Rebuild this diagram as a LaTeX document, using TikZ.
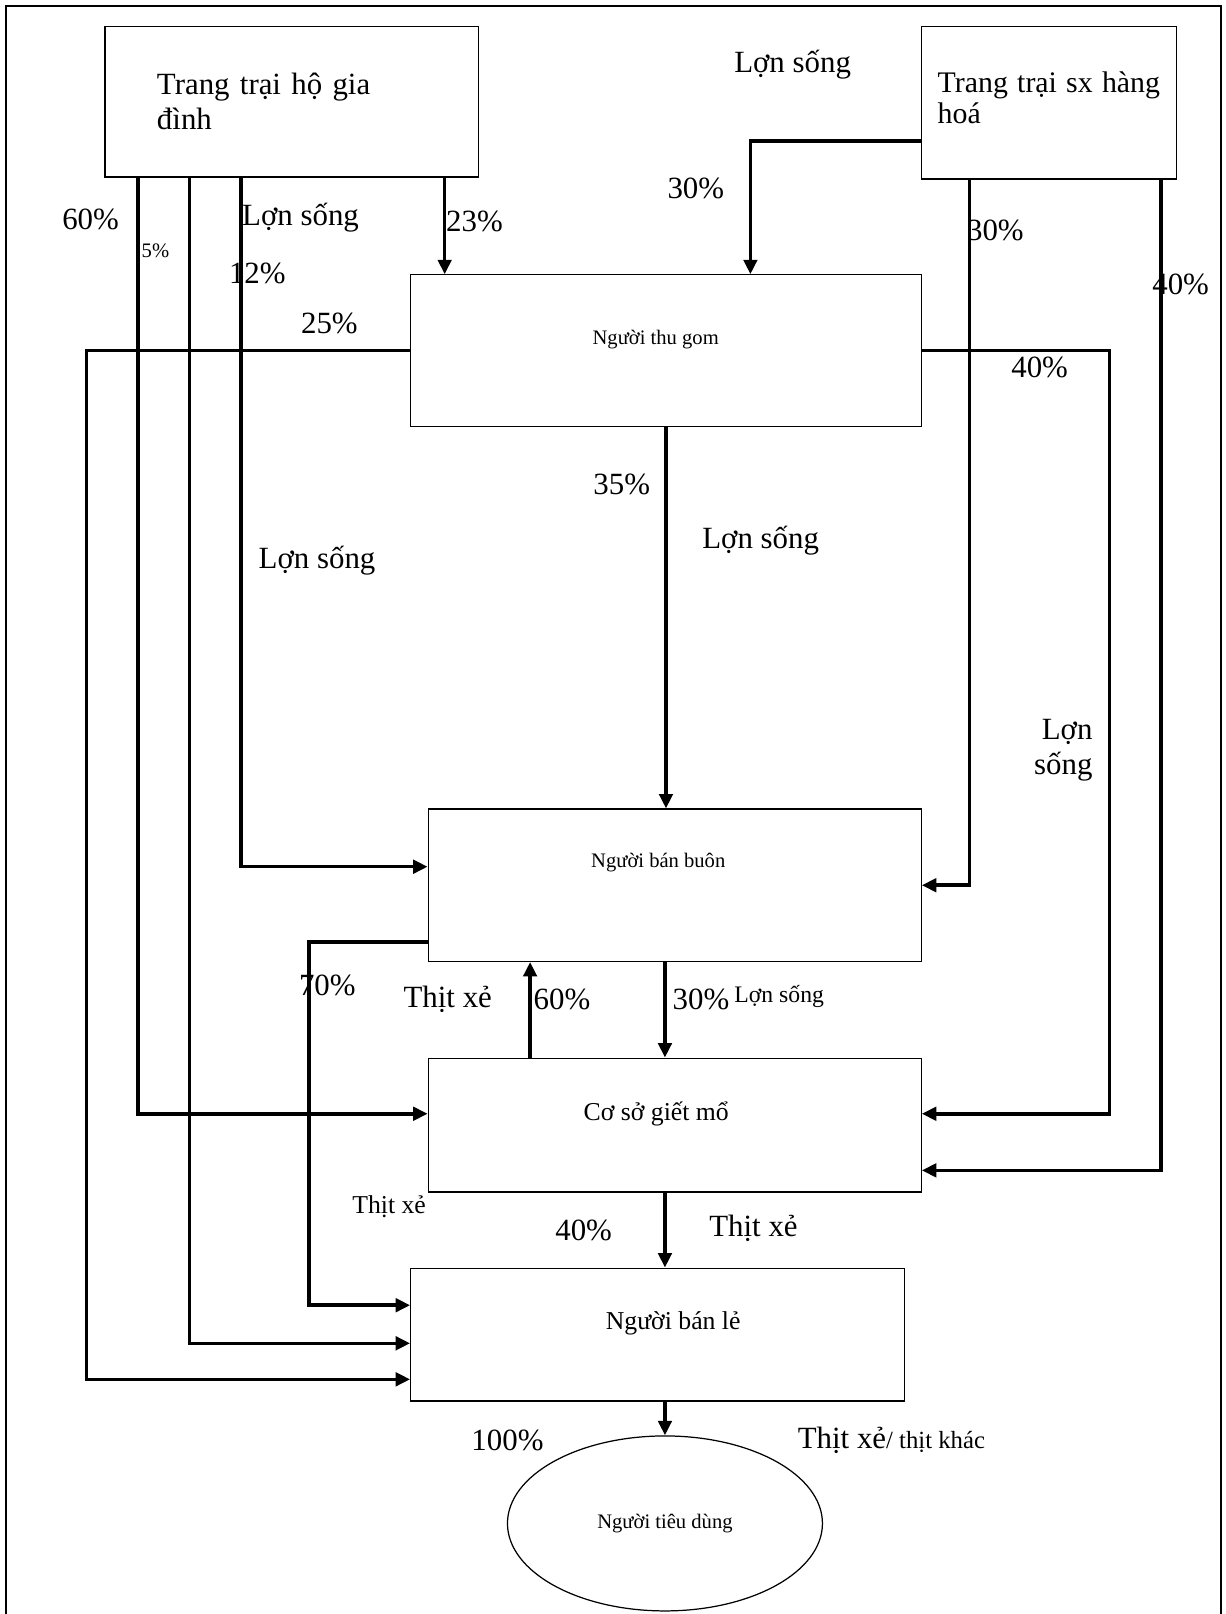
\documentclass[tikz,border=0pt]{standalone}
\usepackage{fontspec}
\setmainfont{Liberation Serif}
\usetikzlibrary{arrows.meta,shapes.geometric}

\tikzset{
  box/.style={draw, line width=1.2pt, inner sep=0pt},
  flow/.style={line width=3.4pt, -{Triangle[length=14pt,width=13pt]}},
  big/.style={font=\fontsize{30}{34}\selectfont},
  mid/.style={font=\fontsize{25}{28}\selectfont},
  sml/.style={font=\fontsize{20}{23}\selectfont}
}

\begin{document}
\begin{tikzpicture}[x=1pt, y=-1pt]
    \useasboundingbox (0,0) rectangle (1191,1568);

    % frame
    \draw[line width=1.5pt] (6,1570) -- (6,6) -- (1186,6) -- (1186,1570);

    % farms
    \node[box, big, minimum width=363pt, minimum height=146pt,
          text width=262pt, align=left] (ho) at (283.5,99)
          {Trang trại hộ gia\\đình};
    \node[box, font=\fontsize{29}{30}\selectfont, minimum width=248pt,
          minimum height=148pt, text width=216pt, align=justify] (hh) at (1019,100)
          {Trang\hfill trại\hfill sx\hfill hàng\\\raisebox{0pt}[\height][\dimexpr\depth+10pt]{hoá}};

    % traders
    \node[box, sml, minimum width=496pt, minimum height=147pt,
          text height=18pt, text depth=29pt] (thugom) at (647,340.5)
          {Người thu gom\hspace*{20pt}};
    \node[box, sml, minimum width=479pt, minimum height=148pt,
          text height=18pt, text depth=52pt] (banbuon) at (655.5,860)
          {Người bán buôn\hspace*{32pt}};
    \node[box, mid, minimum width=479pt, minimum height=130pt,
          text height=22pt, text depth=30pt] (gietmo) at (655.5,1093)
          {Cơ sở giết mổ\hspace*{36pt}};
    \node[box, mid, minimum width=480pt, minimum height=129pt,
          text height=22pt, text depth=31pt] (banle) at (639,1296.5)
          {\hspace*{30pt}Người bán lẻ};
    \node[draw, line width=1.2pt, ellipse, sml, minimum width=306pt,
          minimum height=170pt] (tieudung) at (646,1480) {Người tiêu dùng};

    % flows from household farm
    \draw[flow] (ho.south -| 134,0) |- ([yshift=11pt]gietmo.west);
    \draw[flow] (ho.south -| 184,0) |- ([yshift=-8.5pt]banle.west);
    \draw[flow] (ho.south -| 234,0) |- ([yshift=18pt]banbuon.west);
    \draw[flow] (ho.south -| 432,0) -- (thugom.north -| 432,0);

    % flows from commercial farm
    \draw[flow] ([yshift=-37pt]hh.west) -| (thugom.north -| 729,0);
    \draw[flow] (hh.south -| 942,0) |- (banbuon.east);
    \draw[flow] (hh.south -| 1128,0) |- ([yshift=-44pt]gietmo.east);

    % flows from collector
    \draw[flow] (thugom.west) -| (84,1340) -- ([yshift=-43.5pt]banle.west);
    \draw[flow] (thugom.east) -| (1078,1082) -- ([yshift=11pt]gietmo.east);
    \draw[flow] (thugom.south) -- (banbuon.north -| thugom.south);

    % wholesaler, slaughterhouse, retailer
    \draw[flow] ([yshift=-55pt]banbuon.west) -| (300,1268) -- ([yshift=28.5pt]banle.west);
    \draw[flow] (gietmo.north -| 515,0) -- (banbuon.south -| 515,0);
    \draw[flow] (banbuon.south -| 646,0) -- (gietmo.north -| 646,0);
    \draw[flow] (gietmo.south -| 646,0) -- (banle.north -| 646,0);
    \draw[flow] (banle.south -| 646,0) -- (tieudung.north);

    % labels
    \node[big] (lsTop) at (770,63) {Lợn sống};
    \node[big] (p60a) at (88,213) {60\%};
    \node[sml] (p5) at (151,244) {5\%};
    \node[big] (lsHo) at (292,211) {Lợn sống};
    \node[big] (p12) at (250,266) {12\%};
    \node[big] (p23) at (461,215) {23\%};
    \node[big] (p25) at (320,314) {25\%};
    \node[big] (p30a) at (676,183) {30\%};
    \node[big] (p30b) at (967,224) {30\%};
    \node[big] (p40a) at (1147,276) {40\%};
    \node[big] (p40b) at (1010,357) {40\%};
    \node[big] (p35) at (604,471) {35\%};
    \node[big] (lsMid) at (739,525) {Lợn sống};
    \node[big] (lsLeft) at (308,545) {Lợn sống};
    \node[big, align=right] (lsRight) at (1033,729) {Lợn\\sống};
    \node[big] (p70) at (318,957) {70\%};
    \node[big] (txA) at (435,971) {Thịt xẻ};
    \node[big] (p60b) at (546,971) {60\%};
    \node[big] (p30c) at (681,971) {30\%};
    \node[font=\fontsize{23}{26}\selectfont] (lsSml) at (757,968) {Lợn sống};
    \node[mid] (txB) at (378,1172) {Thịt xẻ};
    \node[big] (p40c) at (567,1195) {40\%};
    \node[big] (txC) at (732,1193) {Thịt xẻ};
    \node[big] (p100) at (493,1399) {100\%};
    \node[big] (txD) at (866,1399) {Thịt xẻ{\fontsize{24}{26}\selectfont/ thịt khác}};

\end{tikzpicture}
\end{document}
